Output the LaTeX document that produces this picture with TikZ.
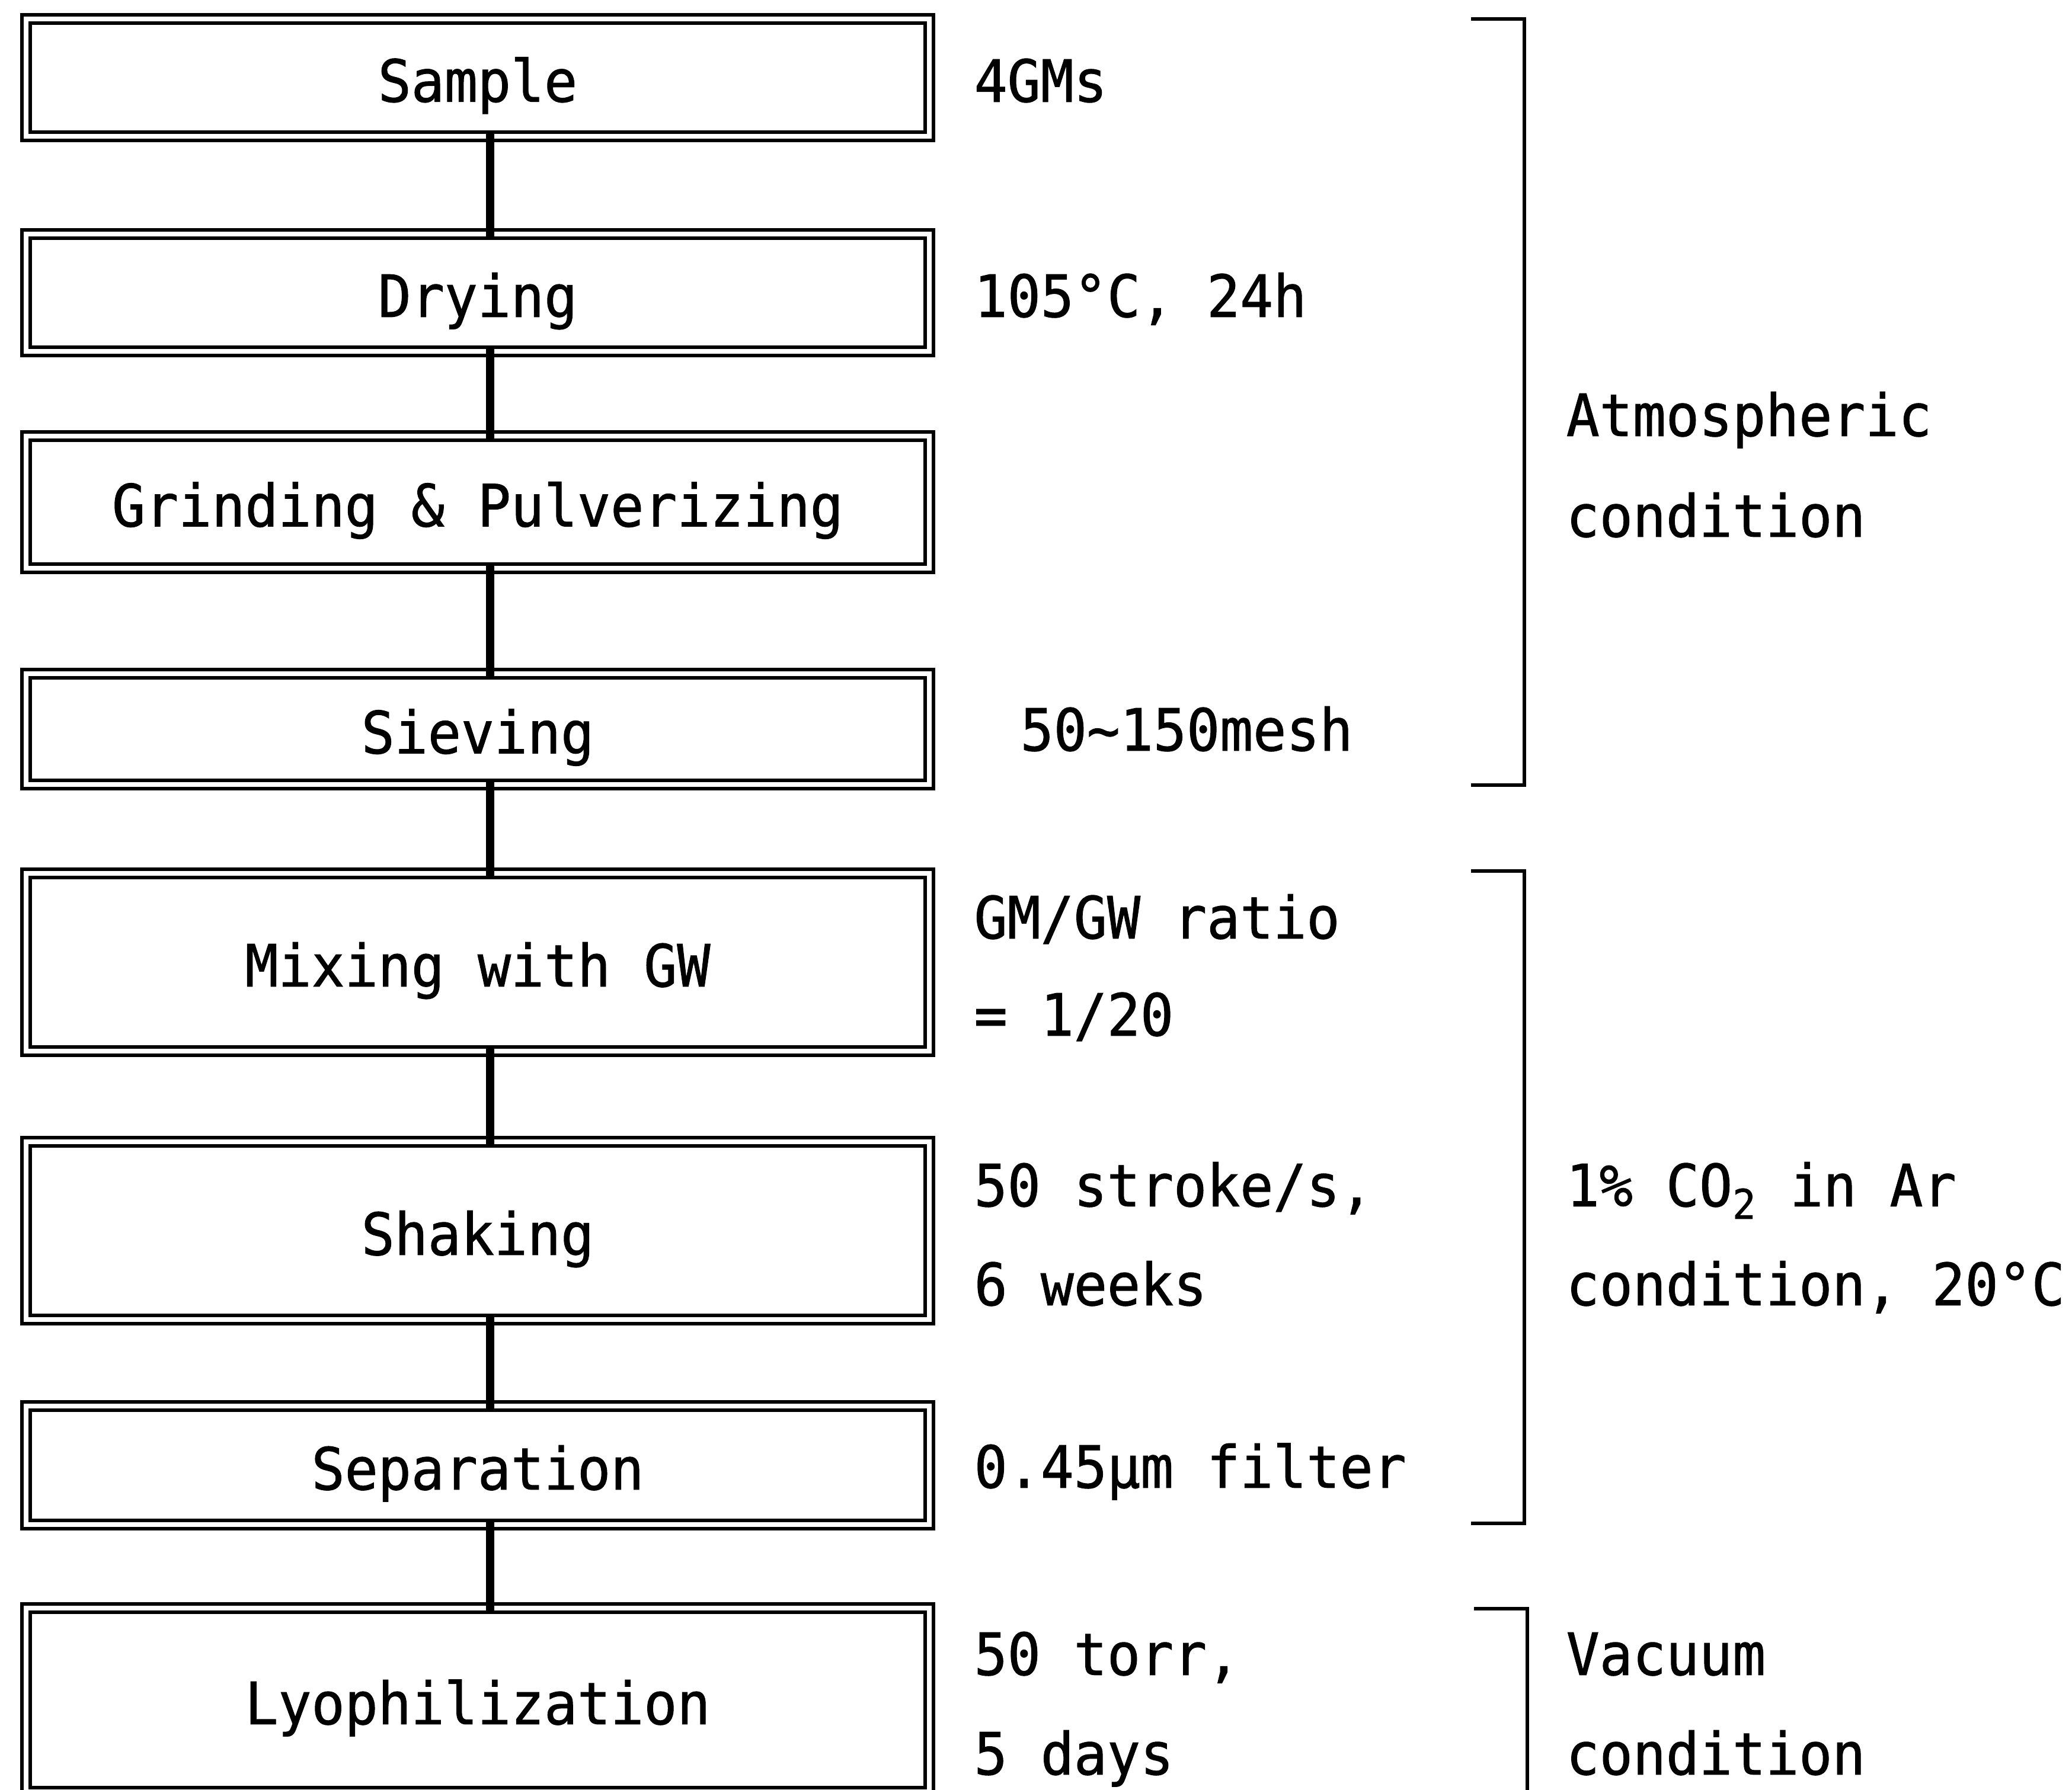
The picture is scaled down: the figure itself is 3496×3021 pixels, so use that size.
\documentclass[tikz,border=0pt]{standalone}
\usepackage{fontspec}
\newfontfamily\mfont[FakeStretch=0.946,FakeBold=1]{DejaVu Sans Mono}
\newcommand{\fs}{\mfont\fontsize{28pt}{32pt}\selectfont}
\begin{document}
\begin{tikzpicture}[x=0.01cm,y=-0.01cm,
  box/.style={draw, line width=1.7pt, double=white, double distance=2.3pt,
    minimum width=15.23cm, inner sep=0pt, font=\fs, text height=23.3pt, text depth=0pt},
  lab/.style={anchor=west, inner sep=0pt, font=\fs, text height=20.4pt, text depth=0pt},
  conn/.style={line width=3.9pt, shorten <=-0.07cm, shorten >=-0.07cm},
  brk/.style={line width=1.6pt}]
\useasboundingbox (0,0) rectangle (3496,3021);
\clip (0,0) rectangle (3496,3021);
% process boxes
\node[box, minimum height=1.975cm] (sample) at (806,130.75) {Sample};
\node[box, minimum height=1.975cm] (drying) at (806,494) {Drying};
\node[box, minimum height=2.23cm] (grind) at (806,847.5) {Grinding \& Pulverizing};
\node[box, minimum height=1.87cm] (sieve) at (806,1230.5) {Sieving};
\node[box, minimum height=3.00cm] (mix) at (806,1624) {Mixing with GW};
\node[box, minimum height=3.00cm] (shake) at (806,2077) {Shaking};
\node[box, minimum height=2.00cm] (sep) at (806,2473) {Separation};
\node[box, minimum height=3.10cm] (lyo) at (806,2869) {Lyophilization};
% connectors
\coordinate (cx) at (827,0);
\draw[conn] (sample.south -| cx) -- (drying.north -| cx);
\draw[conn] (drying.south -| cx) -- (grind.north -| cx);
\draw[conn] (grind.south -| cx) -- (sieve.north -| cx);
\draw[conn] (sieve.south -| cx) -- (mix.north -| cx);
\draw[conn] (mix.south -| cx) -- (shake.north -| cx);
\draw[conn] (shake.south -| cx) -- (sep.north -| cx);
\draw[conn] (sep.south -| cx) -- (lyo.north -| cx);
% conditions
\node[lab] (c1) at (1643,136) {4GMs};
\node[lab] (c2) at (1643,499) {105°C, 24h};
\node[lab] (c3) at (1721,1231) {50\textasciitilde150mesh};
\node[lab] (c4a) at (1643,1548) {GM/GW ratio};
\node[lab] (c4b) at (1643,1712) {= 1/20};
\node[lab] (c5a) at (1643,2000) {50 stroke/s,};
\node[lab] (c5b) at (1643,2167) {6 weeks};
\node[lab] (c6) at (1643,2475) {0.45µm filter};
\node[lab] (c7a) at (1643,2791) {50 torr,};
\node[lab] (c7b) at (1643,2959) {5 days};
% brackets
\draw[brk] (2482,32) -- (2572,32) -- (2572,1325) -- (2482,1325);
\draw[brk] (2482,1470) -- (2572,1470) -- (2572,2571) -- (2482,2571);
\draw[brk] (2487,2715) -- (2577,2715) -- (2577,3040);
\node[lab] (a1) at (2642,700) {Atmospheric};
\node[lab] (a2) at (2642,870) {condition};
\node[lab] (b1) at (2642,2000) {1\% CO\textsubscript{2} in Ar};
\node[lab] (b2) at (2642,2167) {condition, 20°C};
\node[lab] (v1) at (2642,2791) {Vacuum};
\node[lab] (v2) at (2642,2959) {condition};
\end{tikzpicture}
\end{document}
